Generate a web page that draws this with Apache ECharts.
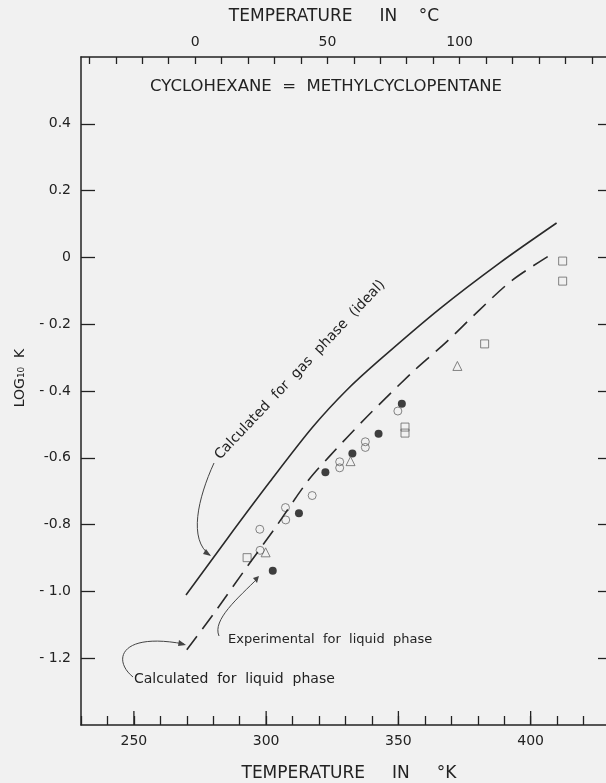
<!DOCTYPE html>
<html><head><meta charset="utf-8">
<script src="https://cdn.jsdelivr.net/npm/echarts@6/dist/echarts.min.js"></script>
<style>html,body{margin:0;padding:0;background:#f1f1f1;}#c{width:606px;height:783px;}</style>
</head><body><div id="c"></div>
<script>
// ---- data (temperature in K, log10 K) ----
const gasT      = [269.7, 285.5, 301.4, 317.6, 330.5, 342.9, 365.6, 388.2, 409.8];
const gasLogK   = [-1.011, -0.840, -0.672, -0.508, -0.397, -0.307, -0.154, -0.017, 0.103];
const liqT      = [270.0, 280.6, 291.9, 303.3, 315.7, 324.0, 338.0, 355.4, 368.2, 380.7, 393.1, 408.6];
const liqLogK   = [-1.175, -1.062, -0.936, -0.811, -0.670, -0.595, -0.478, -0.343, -0.253, -0.157, -0.068, 0.013];
const filledT   = [351.3, 342.5, 332.6, 322.4, 312.4, 302.5];
const filledLogK= [-0.438, -0.528, -0.587, -0.643, -0.766, -0.938];
const openT     = [349.8, 337.5, 337.5, 327.8, 327.8, 317.4, 307.3, 307.4, 297.6, 297.7];
const openLogK  = [-0.460, -0.552, -0.569, -0.612, -0.630, -0.713, -0.749, -0.786, -0.814, -0.877];
const triT      = [331.9, 299.8, 372.3];
const triLogK   = [-0.610, -0.883, -0.325];
const sqT       = [352.5, 352.5, 292.8, 382.6, 412.1, 412.1];
const sqLogK    = [-0.508, -0.526, -0.899, -0.259, -0.011, -0.071];
// ---- axes ----
const kMin = 230, kMax = 430;
const kLabels = [250, 300, 350, 400];
const cTicks = [-40,-30,-20,-10,0,10,20,30,40,50,60,70,80,90,100,110,120,130,140,150];
const cLabels = [0, 50, 100];
const yMin = -1.4, yMax = 0.6;
const yTickValues = [0.4, 0.2, 0, -0.2, -0.4, -0.6, -0.8, -1.0, -1.2];
const yTickLabels = ['0.4', '0.2', '0', '- 0.2', '- 0.4', '-0.6', '-0.8', '- 1.0', '- 1.2'];

const zip = (a, b) => a.map((v, i) => [v, b[i]]);
const FONT = 'DejaVu Sans';
const INK = '#222';
const lineCol = '#2a2a2a';

const chart = echarts.init(document.getElementById('c'), null, {renderer: 'canvas'});
const axisLine = {show: true, onZero: false, lineStyle: {color: INK, width: 1.5}};
const tickStyle = {color: INK, width: 1.3};

const baseGraphics = [
  {type: 'text', x: 334, y: 17, style: {text: 'TEMPERATURE     IN    °C', font: '17px "DejaVu Sans"', fill: INK, align: 'center', verticalAlign: 'middle'}},
  {type: 'text', x: 349, y: 774, style: {text: 'TEMPERATURE     IN     °K', font: '17px "DejaVu Sans"', fill: INK, align: 'center', verticalAlign: 'middle'}},
  {type: 'text', x: 326, y: 87, style: {text: 'CYCLOHEXANE  =  METHYLCYCLOPENTANE', font: '16.5px "DejaVu Sans"', fill: INK, align: 'center', verticalAlign: 'middle'}},
  {type: 'text', x: 20, y: 378, rotation: Math.PI / 2, style: {text: 'LOG₁₀  K', font: '14px "DejaVu Sans"', fill: INK, align: 'center', verticalAlign: 'middle'}},
  {type: 'text', x: 300, y: 370, rotation: 46.6 * Math.PI / 180, style: {text: 'Calculated  for  gas  phase  (ideal)', font: '14px "DejaVu Sans"', fill: INK, align: 'center', verticalAlign: 'middle'}},
  {type: 'text', x: 228, y: 640, style: {text: 'Experimental  for  liquid  phase', font: '13px "DejaVu Sans"', fill: INK, align: 'left', verticalAlign: 'middle'}},
  {type: 'text', x: 134, y: 679, style: {text: 'Calculated  for  liquid  phase', font: '14px "DejaVu Sans"', fill: INK, align: 'left', verticalAlign: 'middle'}},
  {type: 'bezierCurve', shape: {x1: 214, y1: 463, cpx1: 198, cpy1: 498, cpx2: 188, cpy2: 540, x2: 210, y2: 555}, style: {stroke: '#444', lineWidth: 1, fill: null}},
  {type: 'polygon', shape: {points: [[211, 556], [203, 554], [206, 549]]}, style: {fill: '#444'}},
  {type: 'bezierCurve', shape: {x1: 219, y1: 636, cpx1: 212, cpy1: 620, cpx2: 238, cpy2: 598, x2: 258, y2: 578}, style: {stroke: '#444', lineWidth: 1, fill: null}},
  {type: 'polygon', shape: {points: [[259, 576], [253, 578], [257, 583]]}, style: {fill: '#444'}},
  {type: 'bezierCurve', shape: {x1: 133, y1: 677, cpx1: 112, cpy1: 660, cpx2: 120, cpy2: 632, x2: 184, y2: 644}, style: {stroke: '#444', lineWidth: 1, fill: null}},
  {type: 'polygon', shape: {points: [[186, 645], [179, 640], [178, 646]]}, style: {fill: '#444'}}
];

const option = {
  backgroundColor: '#f1f1f1',
  animation: false,
  grid: {left: 81, top: 57, width: 529, height: 668, containLabel: false, outerBoundsMode: 'none'},
  xAxis: [
    {type: 'value', position: 'bottom', min: kMin, max: kMax, interval: 10,
     axisLine: axisLine,
     axisTick: {inside: true, length: 9, lineStyle: tickStyle},
     axisLabel: {customValues: kLabels, fontSize: 14, color: INK, margin: 9, fontFamily: FONT},
     splitLine: {show: false}},
    {type: 'value', position: 'top', min: kMin - 273.15, max: kMax - 273.15,
     axisLine: axisLine,
     axisTick: {customValues: cTicks, inside: true, length: 7, lineStyle: tickStyle},
     axisLabel: {customValues: cLabels, fontSize: 14, color: INK, margin: 8, fontFamily: FONT},
     splitLine: {show: false}}
  ],
  yAxis: [
    {type: 'value', position: 'left', min: yMin, max: yMax,
     axisLine: axisLine,
     axisTick: {customValues: yTickValues, inside: true, length: 14, lineStyle: tickStyle},
     axisLabel: {customValues: yTickValues, fontSize: 14, color: INK, margin: 10, fontFamily: FONT,
       formatter: v => { const i = yTickValues.findIndex(t => Math.abs(t - v) < 1e-6); return i >= 0 ? yTickLabels[i] : ''; }},
     splitLine: {show: false}},
    {type: 'value', position: 'right', min: yMin, max: yMax,
     axisLine: axisLine,
     axisTick: {customValues: yTickValues, inside: true, length: 12, lineStyle: tickStyle},
     axisLabel: {show: false}, splitLine: {show: false}}
  ],
  series: [
    {name: 'Calculated for gas phase (ideal)', type: 'line', smooth: 0.3, symbol: 'none',
     data: zip(gasT, gasLogK), lineStyle: {color: lineCol, width: 1.6}},
    {name: 'Calculated for liquid phase', type: 'line', smooth: 0.3, symbol: 'none',
     data: zip(liqT, liqLogK), lineStyle: {color: lineCol, width: 1.6, type: [17, 9]}},
    {name: 'filled', type: 'scatter', symbol: 'circle', symbolSize: 8,
     data: zip(filledT, filledLogK), itemStyle: {color: '#111'}},
    {name: 'open', type: 'scatter', symbol: 'circle', symbolSize: 8,
     data: zip(openT, openLogK), itemStyle: {color: 'rgba(0,0,0,0)', borderColor: '#666', borderWidth: 1}},
    {name: 'triangle', type: 'scatter', symbol: 'triangle', symbolSize: 9,
     data: zip(triT, triLogK), itemStyle: {color: 'rgba(0,0,0,0)', borderColor: '#666', borderWidth: 1}},
    {name: 'square', type: 'scatter', symbol: 'rect', symbolSize: 8,
     data: zip(sqT, sqLogK), itemStyle: {color: 'rgba(0,0,0,0)', borderColor: '#666', borderWidth: 1}}
  ],
  graphic: baseGraphics
};
chart.setOption(option);

// longer (major) ticks on the kelvin axis, placed through the axis scale
const yBottom = chart.convertToPixel({yAxisIndex: 0}, yMin);
const majorTicks = kLabels.map(v => {
  const x = chart.convertToPixel({xAxisIndex: 0}, v);
  return {type: 'line', shape: {x1: x, y1: yBottom, x2: x, y2: yBottom - 14}, style: {stroke: INK, lineWidth: 1.3}};
});
chart.setOption({graphic: baseGraphics.concat(majorTicks)});
</script>
</body></html>
